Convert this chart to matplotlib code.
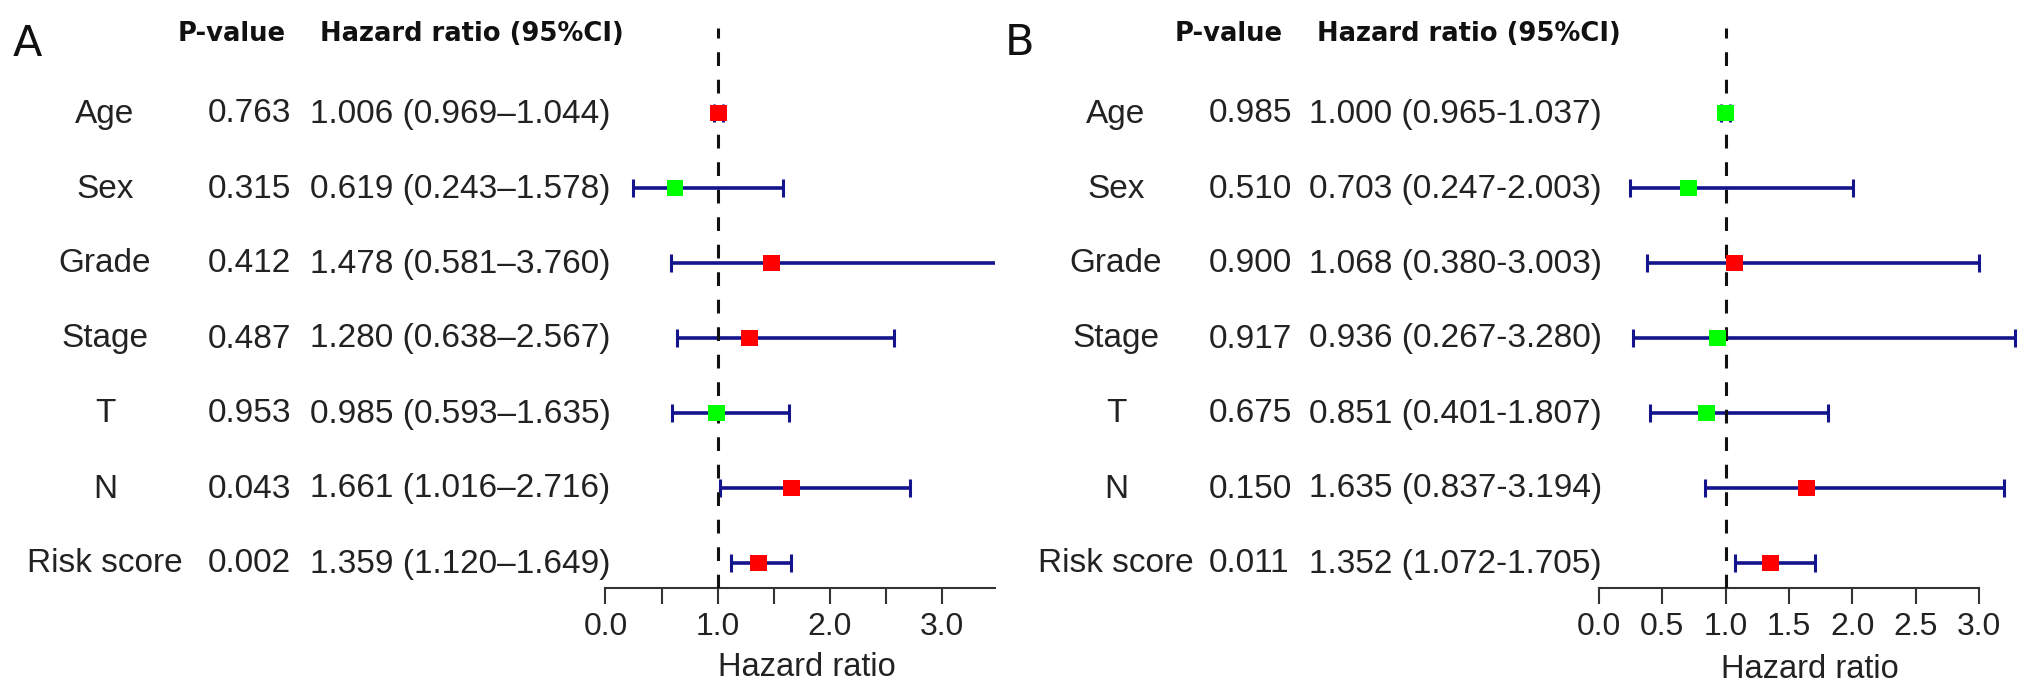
import matplotlib
matplotlib.use('Agg')
import matplotlib.pyplot as plt

# data
labels = ['Age', 'Sex', 'Grade', 'Stage', 'T', 'N', 'Risk score']

pval_a = ['0.763', '0.315', '0.412', '0.487', '0.953', '0.043', '0.002']
hr_a = [1.006, 0.619, 1.478, 1.280, 0.985, 1.661, 1.359]
low_a = [0.969, 0.243, 0.581, 0.638, 0.593, 1.016, 1.120]
high_a = [1.044, 1.578, 3.760, 2.567, 1.635, 2.716, 1.649]

pval_b = ['0.985', '0.510', '0.900', '0.917', '0.675', '0.150', '0.011']
hr_b = [1.000, 0.703, 1.068, 0.936, 0.851, 1.635, 1.352]
low_b = [0.965, 0.247, 0.380, 0.267, 0.401, 0.837, 1.072]
high_b = [1.037, 2.003, 3.003, 3.280, 1.807, 3.194, 1.705]

ticks = [0.0, 0.5, 1.0, 1.5, 2.0, 2.5, 3.0]
ticklabels_a = ['0.0', '', '1.0', '', '2.0', '', '3.0']
ticklabels_b = ['0.0', '0.5', '1.0', '1.5', '2.0', '2.5', '3.0']

W, H = 2031, 697
plt.rcParams['font.family'] = ['Liberation Sans', 'DejaVu Sans']
fig = plt.figure(figsize=(W / 100, H / 100), dpi=100)

txt_col = '#222222'
bar_col = '#14148c'
axis_y = 588  # pixel row of the x axis line
top_y = 28    # pixel row where the dashed line starts


def fx(x):
    return x / W


def fy(y):
    return 1 - y / H


def panel(letter, let_y, pv, hr, lo, hi, dash, ax_left, ax_right, xmax, spine_max,
          tlabels, xlab_x, xlab_y, col):
    # col = x positions of [letter, label centre, p-value, hr text, header p, header hr]
    fig.text(fx(col[0]), fy(let_y), letter, fontsize=31, family='DejaVu Sans',
             color='#111111', va='baseline')
    fig.text(fx(col[4]), fy(41), 'P-value', fontsize=18.6, family='DejaVu Sans',
             fontweight='bold', color='#111111', va='baseline')
    fig.text(fx(col[5]), fy(41), 'Hazard ratio (95%CI)', fontsize=18.6,
             family='DejaVu Sans', fontweight='bold', color='#111111', va='baseline')

    n = len(labels)
    ys = [n - i for i in range(n)]
    for i in range(n):
        ypix = 113 + 75 * i + 9.5
        fig.text(fx(col[1]), fy(ypix), labels[i], fontsize=24, color=txt_col,
                 ha='center', va='baseline')
        fig.text(fx(col[2]), fy(ypix), pv[i], fontsize=24, color=txt_col, va='baseline')
        s = '%.3f (%.3f%s%.3f)' % (hr[i], lo[i], dash, hi[i])
        fig.text(fx(col[3]), fy(ypix), s, fontsize=24, color=txt_col, va='baseline')

    # rows sit at y = 7..1, 75 px apart, Age row at 113 px
    y_bot = 1 - (axis_y - 563) / 75
    y_top = 7 + (113 - top_y) / 75
    ax = fig.add_axes([fx(ax_left), fy(axis_y), fx(ax_right - ax_left), (axis_y - top_y) / H])
    ax.set_xlim(0, xmax)
    ax.set_ylim(y_bot, y_top)
    ax.patch.set_alpha(0)

    err_lo = [hr[i] - lo[i] for i in range(n)]
    err_hi = [hi[i] - hr[i] for i in range(n)]
    ax.errorbar(hr, ys, xerr=[err_lo, err_hi], fmt='none', ecolor=bar_col,
                elinewidth=2.6, capsize=6.5, capthick=2.2, zorder=2)
    ax.axvline(1, color='#111111', lw=2.2, dashes=(4.5, 4.5), zorder=3)
    colors = ['#ff0000' if v > 1 else '#00ff00' for v in hr]
    ax.scatter(hr, ys, marker='s', s=12.2 ** 2, c=colors, linewidths=0, zorder=4)

    for sp in ['top', 'right', 'left']:
        ax.spines[sp].set_visible(False)
    ax.spines['bottom'].set_bounds(0, spine_max)
    ax.spines['bottom'].set_linewidth(1.5)
    ax.spines['bottom'].set_color('#333333')
    ax.set_yticks([])
    ax.set_xticks(ticks)
    ax.set_xticklabels(tlabels)
    ax.tick_params(axis='x', length=11.5, width=1.5, color='#333333', pad=6,
                   labelsize=23, labelcolor=txt_col)
    fig.text(fx(xlab_x), fy(xlab_y), 'Hazard ratio', fontsize=23.5, color=txt_col,
             ha='center', va='center')
    return ax


panel('A', 56, pval_a, hr_a, low_a, high_a, '\u2013', 605.5, 995, 3.47, 3.47,
      ticklabels_a, 807, 668, [13, 105, 208, 310, 178, 320])
panel('B', 55, pval_b, hr_b, low_b, high_b, '-', 1599, 2019, 3.315, 3.0,
      ticklabels_b, 1810, 670, [1005, 1116, 1209, 1309, 1175, 1317])

fig.savefig('out.png', dpi=100, facecolor='white')
